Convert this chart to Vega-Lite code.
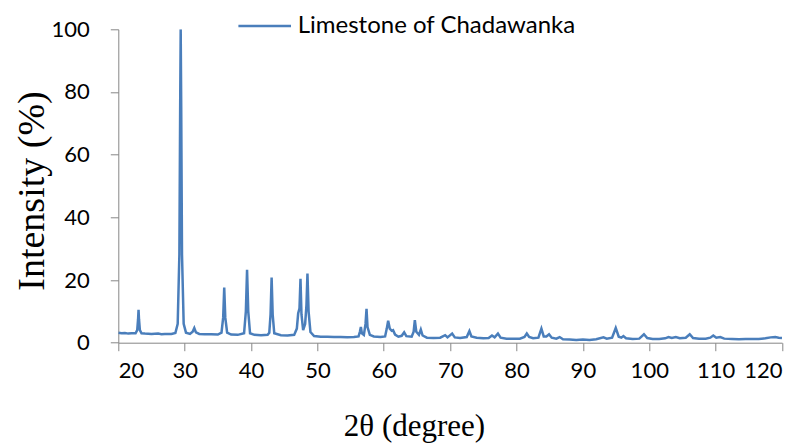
{
  "$schema": "https://vega.github.io/schema/vega-lite/v6.json",
  "width": 663.7,
  "height": 313.4,
  "autosize": "none",
  "padding": {"left": 118.3, "top": 29.3, "right": 22, "bottom": 101.3},
  "background": "white",
  "config": {"view": {"stroke": null}},
  "data": {"values": [
    {"x":20,"y":3.2},{"x":20.5,"y":3.0},{"x":21,"y":3.1},{"x":21.5,"y":2.9},{"x":22,"y":3.0},{"x":22.6,"y":3.0},
    {"x":22.85,"y":4.0},{"x":22.98,"y":7.5},{"x":23.05,"y":10.5},{"x":23.12,"y":7.5},{"x":23.25,"y":4.0},{"x":23.5,"y":3.0},{"x":24,"y":2.9},{"x":25,"y":2.8},
    {"x":26,"y":2.9},{"x":26.5,"y":2.7},{"x":27,"y":2.8},{"x":28,"y":2.8},{"x":28.6,"y":3.1},{"x":28.95,"y":6.0},
    {"x":29.2,"y":28},{"x":29.32,"y":75},{"x":29.4,"y":100},{"x":29.48,"y":75},{"x":29.6,"y":28},{"x":29.85,"y":6.0},{"x":30.2,"y":3.2},{"x":30.8,"y":2.8},
    {"x":31.2,"y":3.5},{"x":31.45,"y":4.7},{"x":31.7,"y":3.3},{"x":32.2,"y":2.8},{"x":33,"y":2.7},{"x":34,"y":2.7},
    {"x":35,"y":2.6},{"x":35.55,"y":3.2},{"x":35.8,"y":8},{"x":35.96,"y":17.6},{"x":36.12,"y":8},{"x":36.4,"y":3.2},
    {"x":37,"y":2.6},{"x":38,"y":2.5},{"x":38.95,"y":3.0},{"x":39.22,"y":10},{"x":39.4,"y":23.3},{"x":39.58,"y":10},
    {"x":39.85,"y":3.0},{"x":40.5,"y":2.5},{"x":41.5,"y":2.4},{"x":42.5,"y":2.5},{"x":42.75,"y":3.2},{"x":42.94,"y":9},
    {"x":43.1,"y":20.8},{"x":43.26,"y":9},{"x":43.5,"y":3.0},{"x":44.5,"y":2.4},{"x":45.5,"y":2.3},{"x":46.5,"y":2.5},
    {"x":46.9,"y":4.5},{"x":47.1,"y":9.3},{"x":47.3,"y":11},{"x":47.45,"y":20.4},{"x":47.6,"y":9},{"x":47.85,"y":4},
    {"x":48.15,"y":6},{"x":48.35,"y":12},{"x":48.5,"y":22.1},{"x":48.67,"y":10},{"x":48.95,"y":3.4},{"x":49.5,"y":2.1},
    {"x":50.5,"y":1.9},{"x":51.5,"y":1.9},{"x":52.5,"y":1.8},{"x":53.5,"y":1.8},{"x":54.5,"y":1.7},{"x":55.5,"y":1.8},
    {"x":56.2,"y":2.0},{"x":56.4,"y":3.5},{"x":56.55,"y":5.0},{"x":56.7,"y":3},{"x":57.0,"y":2.5},{"x":57.25,"y":6},
    {"x":57.4,"y":10.8},{"x":57.55,"y":5},{"x":57.9,"y":2.5},{"x":58.5,"y":2.0},{"x":59.5,"y":1.8},{"x":60.2,"y":2.0},
    {"x":60.45,"y":4.5},{"x":60.66,"y":7.0},{"x":60.9,"y":4.5},{"x":61.2,"y":3.8},{"x":61.4,"y":4.0},{"x":61.7,"y":2.6},
    {"x":62.2,"y":1.9},{"x":62.7,"y":2.2},{"x":63.07,"y":3.3},{"x":63.4,"y":2.1},{"x":64.2,"y":1.9},{"x":64.5,"y":3.5},
    {"x":64.68,"y":7.2},{"x":64.9,"y":3.5},{"x":65.3,"y":2.5},{"x":65.58,"y":4.2},{"x":65.85,"y":2.3},{"x":66.5,"y":1.6},
    {"x":67.5,"y":1.5},{"x":68.5,"y":1.6},{"x":69.25,"y":2.4},{"x":69.6,"y":1.7},{"x":70.3,"y":2.9},{"x":70.7,"y":1.7},
    {"x":71.5,"y":1.5},{"x":72.5,"y":1.8},{"x":72.9,"y":3.7},{"x":73.2,"y":2.0},{"x":74,"y":1.6},{"x":75,"y":1.4},
    {"x":75.8,"y":1.5},{"x":76.3,"y":2.3},{"x":76.7,"y":1.7},{"x":77.2,"y":2.9},{"x":77.6,"y":1.6},{"x":78.5,"y":1.3},
    {"x":79.5,"y":1.3},{"x":80.5,"y":1.3},{"x":81.2,"y":1.8},{"x":81.55,"y":2.9},{"x":81.9,"y":1.8},{"x":82.5,"y":1.4},
    {"x":83.3,"y":1.6},{"x":83.75,"y":4.5},{"x":84.1,"y":2.0},{"x":84.5,"y":2.0},{"x":84.9,"y":2.7},{"x":85.3,"y":1.6},
    {"x":86,"y":1.3},{"x":86.5,"y":1.8},{"x":87,"y":1.1},{"x":88,"y":1.0},{"x":89,"y":0.9},{"x":90,"y":1.0},
    {"x":91,"y":0.9},{"x":92,"y":1.1},{"x":93.1,"y":1.7},{"x":93.6,"y":1.3},{"x":94.4,"y":1.6},{"x":94.95,"y":4.7},
    {"x":95.4,"y":1.9},{"x":95.8,"y":1.6},{"x":96.1,"y":2.1},{"x":96.5,"y":1.4},{"x":97.5,"y":1.2},{"x":98.5,"y":1.3},
    {"x":99.2,"y":2.7},{"x":99.7,"y":1.5},{"x":100.5,"y":1.2},{"x":101.5,"y":1.2},{"x":102.4,"y":1.4},{"x":102.9,"y":1.8},
    {"x":103.4,"y":1.5},{"x":104.0,"y":1.8},{"x":104.6,"y":1.4},{"x":105.5,"y":1.6},{"x":106.1,"y":2.7},{"x":106.6,"y":1.5},
    {"x":107.5,"y":1.3},{"x":108.5,"y":1.3},{"x":109.2,"y":1.6},{"x":109.65,"y":2.3},{"x":110.1,"y":1.6},{"x":110.7,"y":1.8},
    {"x":111.3,"y":1.3},{"x":112.5,"y":1.2},{"x":113.5,"y":1.1},{"x":114.5,"y":1.2},{"x":115.5,"y":1.2},{"x":116.5,"y":1.2},
    {"x":117.5,"y":1.4},{"x":118.3,"y":1.7},{"x":119,"y":1.8},{"x":119.5,"y":1.6},{"x":120,"y":1.5}
  ]},
  "mark": {"type": "line", "strokeWidth": 2.5, "clip": true},
  "encoding": {
    "x": {
      "field": "x", "type": "quantitative",
      "scale": {"domain": [20, 120], "nice": false, "zero": false},
      "axis": {
        "values": [20,30,40,50,60,70,80,90,100,110,120],
        "grid": false, "domainColor": "#868686", "tickColor": "#868686", "tickSize": 8,
        "labelFont": "Lato", "labelFontSize": 22, "labelColor": "#000000", "labelPadding": 10,
        "title": "2θ (degree)", "titleFont": "Liberation Serif", "titleFontSize": 31, "titleFontWeight": "normal",
        "titleColor": "#000000", "titleX": 295.7, "titleY": 93, "titleBaseline": "alphabetic", "titleAlign": "center"
      }
    },
    "y": {
      "field": "y", "type": "quantitative",
      "scale": {"domain": [0, 100], "nice": false},
      "axis": {
        "values": [0,20,40,60,80,100],
        "grid": false, "domainColor": "#868686", "tickColor": "#868686", "tickSize": 8,
        "labelFont": "Lato", "labelFontSize": 22, "labelColor": "#000000", "labelPadding": 21,
        "title": "Intensity (%)", "titleFont": "Liberation Serif", "titleFontSize": 38, "titleFontWeight": "normal",
        "titleColor": "#000000", "titleX": -75.3, "titleY": 161.2, "titleAngle": -90, "titleBaseline": "alphabetic", "titleAlign": "center"
      }
    },
    "color": {
      "datum": "Limestone of Chadawanka",
      "scale": {"range": ["#4a7ebb"]},
      "legend": {
        "title": null, "orient": "none", "legendX": 118.4, "legendY": -31.3, "padding": 0,
        "symbolType": "stroke", "symbolSize": 2767, "symbolStrokeWidth": 2.5,
        "labelFont": "Lato", "labelFontSize": 24, "labelColor": "#000000", "labelOffset": 5, "labelLimit": 500
      }
    }
  }
}
